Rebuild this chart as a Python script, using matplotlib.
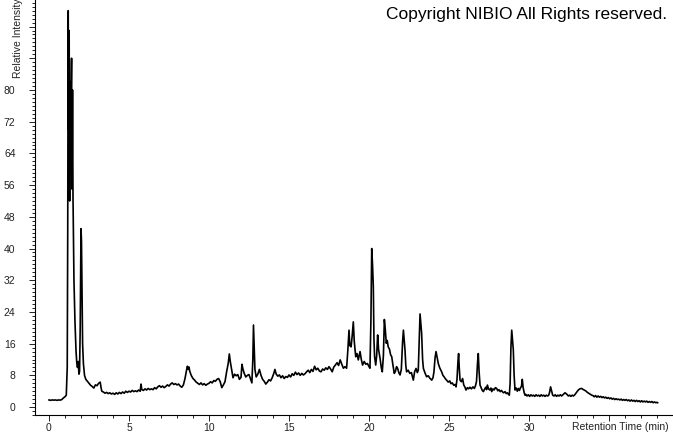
import matplotlib
matplotlib.use('Agg')
import matplotlib.pyplot as plt
from matplotlib.ticker import MultipleLocator, FixedLocator, FuncFormatter

plt.rcParams['font.family'] = ['Liberation Sans', 'DejaVu Sans']

# retention time (min) and relative intensity
rt = [0.0, 0.1, 0.2, 0.3, 0.4, 0.5, 0.6, 0.7, 0.8, 0.9, 1.0, 1.08, 1.14,
      1.17, 1.2, 1.23, 1.26, 1.29, 1.32, 1.35, 1.38, 1.41, 1.44, 1.47, 1.5,
      1.56, 1.62, 1.69, 1.74, 1.78, 1.83, 1.87, 1.91, 1.95, 2.0, 2.03, 2.06,
      2.1, 2.15, 2.22, 2.3, 2.4, 2.5, 2.6, 2.7, 2.8, 2.9, 3.0, 3.1, 3.2,
      3.25, 3.3, 3.4, 3.5, 3.6, 3.7, 3.8, 3.9, 4.0, 4.1, 4.2, 4.3, 4.4,
      4.5, 4.6, 4.7, 4.8, 4.9, 5.0, 5.1, 5.2, 5.3, 5.4, 5.5, 5.6, 5.7,
      5.75, 5.8, 5.9, 6.0, 6.1, 6.2, 6.3, 6.4, 6.5, 6.6, 6.7, 6.8, 6.9,
      7.0, 7.1, 7.2, 7.3, 7.4, 7.5, 7.6, 7.7, 7.8, 7.9, 8.0, 8.1, 8.2,
      8.3, 8.4, 8.5, 8.6, 8.65, 8.7, 8.75, 8.8, 8.9, 9.0, 9.1, 9.2, 9.3,
      9.4, 9.5, 9.6, 9.7, 9.8, 9.9, 10.0, 10.1, 10.2, 10.3, 10.4, 10.5,
      10.6, 10.7, 10.8, 10.9, 11.0, 11.1, 11.2, 11.27, 11.33, 11.4, 11.5,
      11.6, 11.7, 11.8, 11.9, 12.0, 12.06, 12.12, 12.2, 12.3, 12.4, 12.5,
      12.6, 12.68, 12.74, 12.78, 12.82, 12.87, 12.95, 13.05, 13.15, 13.25,
      13.35, 13.45, 13.55, 13.65, 13.75, 13.85, 13.95, 14.05, 14.12, 14.2,
      14.3, 14.4, 14.5, 14.6, 14.7, 14.8, 14.9, 15.0, 15.1, 15.2, 15.3,
      15.4, 15.5, 15.6, 15.7, 15.8, 15.9, 16.0, 16.1, 16.2, 16.3, 16.4,
      16.5, 16.6, 16.7, 16.8, 16.9, 17.0, 17.1, 17.2, 17.3, 17.4, 17.5,
      17.6, 17.7, 17.8, 17.9, 18.0, 18.1, 18.2, 18.3, 18.4, 18.5, 18.6,
      18.68, 18.75, 18.8, 18.88, 18.95, 19.02, 19.08, 19.17, 19.25, 19.33,
      19.44, 19.52, 19.6, 19.7, 19.8, 19.9, 20.0, 20.06, 20.12, 20.17,
      20.22, 20.27, 20.31, 20.35, 20.42, 20.48, 20.54, 20.6, 20.69, 20.77,
      20.83, 20.9, 20.96, 21.02, 21.08, 21.14, 21.2, 21.28, 21.35, 21.42,
      21.5, 21.58, 21.65, 21.72, 21.79, 21.87, 21.94, 22.02, 22.1, 22.15,
      22.2, 22.25, 22.3, 22.35, 22.45, 22.55, 22.65, 22.72, 22.77, 22.85,
      22.94, 23.02, 23.08, 23.14, 23.19, 23.24, 23.29, 23.35, 23.4, 23.5,
      23.6, 23.7, 23.8, 23.92, 24.0, 24.06, 24.13, 24.19, 24.26, 24.33,
      24.42, 24.54, 24.62, 24.7, 24.78, 24.85, 24.95, 25.05, 25.12, 25.2,
      25.3, 25.38, 25.44, 25.5, 25.56, 25.6, 25.64, 25.69, 25.77, 25.85,
      25.92, 26.0, 26.06, 26.15, 26.22, 26.31, 26.4, 26.5, 26.58, 26.65,
      26.72, 26.78, 26.83, 26.88, 26.94, 27.02, 27.08, 27.15, 27.22, 27.3,
      27.35, 27.4, 27.47, 27.55, 27.62, 27.67, 27.75, 27.82, 27.9, 27.98,
      28.05, 28.12, 28.2, 28.28, 28.35, 28.42, 28.5, 28.58, 28.65, 28.72,
      28.77, 28.82, 28.87, 28.92, 28.96, 29.02, 29.07, 29.125, 29.2, 29.27,
      29.33, 29.4, 29.47, 29.53, 29.58, 29.63, 29.7, 29.75]

intensity = [1.8, 1.7, 1.8, 1.75, 1.8, 1.7, 1.8, 1.75, 1.9, 2.3, 2.6, 3.0, 10,
             44, 100, 70, 95, 52, 82, 60, 79, 88, 55, 80, 53,
             32, 22, 14, 11, 10, 11.5, 8.3, 9, 20, 45, 42, 30,
             16, 11, 8, 7, 6.5, 6, 5.5, 5.2, 4.8, 5.6, 5.4, 6.0, 6.3,
             5.0, 4.0, 3.8, 3.5, 3.7, 3.4, 3.6, 3.3, 3.5, 3.2, 3.6, 3.3, 3.7,
             3.4, 3.8, 3.5, 4.0, 3.7, 4.0, 3.8, 4.2, 3.9, 4.1, 3.9, 4.3, 4.0,
             5.8, 4.4, 4.2, 4.6, 4.3, 4.7, 4.4, 4.6, 4.4, 4.9, 4.6, 5.1, 5.4,
             5.0, 5.3, 4.9, 5.2, 5.6, 5.3, 5.8, 6.1, 5.7, 5.9, 5.6, 5.8, 5.3,
             5.0, 5.6, 7.2, 9.4, 10.3, 9.5, 10.1, 9.0, 7.9, 7.2, 6.8, 6.3, 6.0,
             5.7, 6.1, 5.6, 5.9, 5.5, 5.8, 6.0, 6.4, 6.1, 6.7, 6.5, 7.0,
             7.2, 6.4, 4.9, 5.6, 6.4, 8.9, 11.0, 13.4, 11.5, 9.8, 7.4,
             8.3, 7.9, 8.2, 7.0, 7.5, 10.8, 9.6, 8.5, 7.6, 8.0, 8.2,
             7.0, 6.1, 12.0, 20.7, 16.0, 9.5, 7.6, 8.3, 9.5, 8.0,
             7.0, 6.5, 5.8, 6.3, 6.9, 6.6, 7.4, 8.5, 9.5, 8.3,
             7.8, 8.1, 7.4, 7.9, 7.2, 7.7, 7.5, 8.1, 7.6, 8.4, 8.0,
             8.8, 8.2, 8.6, 8.0, 8.5, 8.1, 8.4, 8.9, 9.3, 8.7, 9.5,
             9.0, 10.3, 9.4, 9.8, 9.1, 8.9, 9.6, 9.3, 9.9, 9.5, 10.2,
             9.6, 8.9, 10.1, 10.6, 11.2, 10.5, 11.9, 10.8, 9.8, 10.2, 9.8,
             14.5, 19.4, 15.5, 15.2, 18.0, 21.5, 16.5, 12.7, 13.5, 11.9,
             14.0, 12.0, 10.6, 11.5, 10.8, 11.0, 10.2, 9.8, 22.0, 40.0,
             36.0, 30.4, 17.0, 12.7, 10.6, 13.0, 18.2, 14.5, 12.3, 9.9,
             8.9, 13.0, 22.1, 19.5, 16.1, 16.8, 15.2, 14.6, 13.2, 12.7,
             10.5, 8.5, 9.0, 10.2, 9.75, 8.6, 8.1, 9.5, 16.5, 19.4,
             17.0, 14.4, 10.5, 8.9, 9.3, 8.5, 8.7, 7.6, 6.8, 8.9,
             9.75, 8.7, 9.3, 17.0, 23.5, 21.0, 18.6, 12.0, 9.75, 8.6,
             7.65, 7.9, 7.3, 6.8, 7.4, 8.9, 12.5, 14.0, 12.5, 11.0,
             9.9, 8.9, 8.0, 7.6, 7.1, 6.8, 6.3, 6.6, 5.9, 6.1,
             5.5, 5.7, 5.1, 7.0, 11.5, 13.5, 10.0, 6.8, 6.4, 7.2,
             5.6, 5.0, 4.3, 4.9, 4.6, 5.0, 4.6, 5.1, 4.7, 5.3,
             6.5, 11.0, 13.5, 9.0, 5.55, 4.8, 4.2, 3.9, 4.5, 5.0,
             4.4, 5.55, 4.6, 4.3, 4.8, 3.9, 4.6, 4.3, 4.9, 4.7,
             4.1, 4.4, 3.9, 4.2, 3.8, 3.6, 3.9, 3.4, 3.6, 3.2,
             3.0, 6.0, 15.0, 19.4, 17.5, 14.4, 8.0, 4.3, 4.8, 4.0,
             4.7, 4.2, 4.9, 5.2, 7.0, 5.0, 3.6, 3.0]

# late part of the run (after the 29 min peaks), noisy baseline and the hump near 33 min
rt_late = [29.8, 29.88, 29.96, 30.04, 30.12, 30.2, 30.28, 30.36, 30.44, 30.52,
           30.6, 30.68, 30.76, 30.84, 30.92, 31.0, 31.08, 31.16, 31.22, 31.28,
           31.35, 31.42, 31.48, 31.56, 31.64, 31.72, 31.8, 31.88, 31.96, 32.04,
           32.15, 32.25, 32.35, 32.46, 32.54, 32.62, 32.7, 32.78, 32.86, 32.95,
           33.08, 33.18, 33.29, 33.4, 33.54, 33.65, 33.8, 33.92]
int_late = [3.2, 2.8, 3.1, 2.7, 3.1, 2.8, 3.0, 2.7, 3.1, 2.8,
            3.0, 2.7, 3.1, 2.8, 3.0, 2.7, 3.0, 2.8, 2.9, 3.6,
            5.1, 4.0, 3.0, 2.8, 3.1, 2.7, 3.0, 2.8, 3.1, 2.8,
            3.2, 3.6, 3.3, 2.8, 3.0, 2.7, 3.0, 2.8, 3.1, 3.6,
            4.3, 4.6, 4.7, 4.4, 4.1, 3.7, 3.3, 3.0]

# tail, slowly falling baseline
rt_tail = [34.0, 34.08, 34.16, 34.24, 34.32, 34.4, 34.48, 34.56, 34.64, 34.72,
           34.8, 34.88, 34.96, 35.04, 35.12, 35.2, 35.28, 35.36, 35.44, 35.52,
           35.6, 35.68, 35.76, 35.84, 35.92, 36.0, 36.08, 36.16, 36.24, 36.32,
           36.4, 36.48, 36.56, 36.64, 36.72, 36.8, 36.88, 36.96, 37.04, 37.12,
           37.2, 37.28, 37.36, 37.44, 37.52, 37.6, 37.68, 37.76, 37.84, 37.92,
           38.0, 38.04]
int_tail = [2.9, 2.6, 2.9, 2.5, 2.8, 2.5, 2.7, 2.4, 2.6, 2.3,
            2.5, 2.2, 2.4, 2.1, 2.3, 2.0, 2.2, 1.9, 2.1, 1.9,
            2.0, 1.8, 2.0, 1.7, 1.9, 1.7, 1.9, 1.6, 1.8, 1.5,
            1.8, 1.5, 1.7, 1.4, 1.7, 1.4, 1.6, 1.3, 1.6, 1.3,
            1.5, 1.3, 1.5, 1.2, 1.4, 1.2, 1.4, 1.1, 1.3, 1.1,
            1.2, 1.1]

x_labels = [0, 5, 10, 15, 20, 25, 30]
y_labels = [0, 8, 16, 24, 32, 40, 48, 56, 64, 72, 80]

fig = plt.figure(figsize=(6.73, 4.33), dpi=100)
ax = fig.add_axes([35/673, 18/433, 638/673, 415/433])

ax.plot(rt + rt_late + rt_tail, intensity + int_late + int_tail, color='black', lw=1.2)

ax.set_xlim(-0.875, 39.0)
ax.set_ylim(-2.0, 102.7)

ax.spines['top'].set_visible(False)
ax.spines['right'].set_visible(False)
ax.spines['left'].set_linewidth(0.8)
ax.spines['bottom'].set_linewidth(0.8)

# x ticks: majors every 5 min, labels stop at 30 (axis title sits there)
ax.xaxis.set_major_locator(MultipleLocator(5))
ax.xaxis.set_minor_locator(MultipleLocator(1))
ax.xaxis.set_major_formatter(FuncFormatter(lambda v, p: '%d' % v if round(v) in x_labels else ''))

ax.yaxis.set_major_locator(FixedLocator(list(range(0, 104, 8))))
ax.yaxis.set_minor_locator(MultipleLocator(1))
ax.yaxis.set_major_formatter(FuncFormatter(lambda v, p: '%d' % v if round(v) in y_labels else ''))

ax.tick_params(which='major', direction='out', length=4, width=0.7, labelsize=7.5,
               colors='#222222')
ax.tick_params(which='minor', direction='out', length=2.2, width=0.7, colors='#222222')
ax.tick_params(axis='y', which='major', pad=10)
ax.tick_params(axis='x', which='major', pad=2)

fig.text(669/673, 1 - 427/433, 'Retention Time (min)', ha='right', va='center',
         fontsize=7.5, color='#222222')
fig.text(18/673, 1 - 78/433, 'Relative Intensity', rotation=90, ha='center', va='bottom',
         fontsize=7.5, color='#222222')
fig.text(667/673, 1 - 14/433, 'Copyright NIBIO All Rights reserved.', ha='right',
         va='center', fontsize=12.5, color='black')

fig.savefig('out.png', dpi=100)
